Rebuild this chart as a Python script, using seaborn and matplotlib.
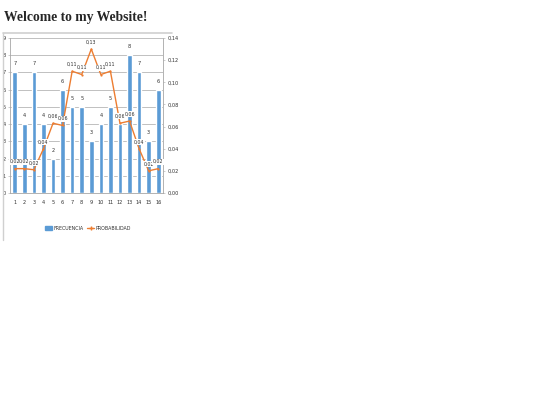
import numpy as np
import pandas as pd
import matplotlib
matplotlib.use("Agg")
import matplotlib.pyplot as plt
from matplotlib.lines import Line2D
from matplotlib.patches import Patch
import seaborn as sns

# data
categorias = [str(i) for i in range(1, 17)]
frecuencia = [7, 4, 7, 4, 2, 6, 5, 5, 3, 4, 5, 4, 8, 7, 3, 6]
# the label of bar 12 is hidden under the line label in the original
frec_labels = ["7", "4", "7", "4", "2", "6", "5", "5", "3", "4", "5", "", "8", "7", "3", "6"]
probabilidad = [0.022, 0.022, 0.021, 0.040, 0.063, 0.061, 0.110, 0.107,
                0.130, 0.107, 0.110, 0.063, 0.065, 0.040, 0.020, 0.022]
prob_labels = ["0,02", "0,02", "0,02", "0,04", "0,06", "0,06", "0,11", "0,11",
               "0,13", "0,11", "0,11", "0,06", "0,06", "0,04", "0,02", "0,02"]
left_ticks = list(range(0, 10))
right_ticks = [0.00, 0.02, 0.04, 0.06, 0.08, 0.10, 0.12, 0.14]

df = pd.DataFrame({"x": categorias, "pos": np.arange(16),
                   "FRECUENCIA": frecuencia, "PROBABILIDAD": probabilidad})

BLUE = "#5b9bd5"
ORANGE = "#ed7d31"
GRID = "#a6a6a6"
TXT = "#303030"

sns.set_style("white")
plt.rcParams["font.family"] = ["DejaVu Sans"]

W, H = 540, 405
fig = plt.figure(figsize=(W / 100, H / 100), dpi=100)
fig.patch.set_facecolor("white")

# page heading
fig.text(4 / W, 1 - 21 / H, "Welcome to my Website!", family="Liberation Serif",
         fontweight="bold", fontsize=9.8, va="baseline", ha="left")

# thin border of the chart image
fig.add_artist(Line2D([3 / W, 172 / W], [1 - 33 / H, 1 - 33 / H], color="#d0d0d0", lw=1.2))
fig.add_artist(Line2D([3 / W, 3 / W], [1 - 33 / H, 1 - 240 / H], color="#d0d0d0", lw=1.0))

ax = fig.add_axes([10 / W, 1 - 193 / H, 153 / W, 155 / H])
sns.barplot(data=df, x="x", y="FRECUENCIA", color=BLUE, width=0.48, ax=ax,
            saturation=1, zorder=2)
ax.set_ylim(0, 9)
ax.set_yticks(left_ticks)
ax.set_xlim(-0.5, 15.5)
ax.yaxis.grid(True, color=GRID, lw=0.5, zorder=0)
ax.set_axisbelow(True)
ax.set_xlabel("")
ax.set_ylabel("")
for s in ["top", "right"]:
    ax.spines[s].set_visible(False)
for s in ["left", "bottom"]:
    ax.spines[s].set_color(GRID)
    ax.spines[s].set_linewidth(0.6)
ax.tick_params(axis="both", labelsize=3.6, length=1.5, width=0.4, color=GRID, pad=1.5,
               labelcolor=TXT)
ax.set_xticks(np.arange(16))
ax.set_xticks(np.arange(-0.5, 16, 1), minor=True)
ax.tick_params(axis="x", which="major", length=0)
ax.tick_params(axis="x", which="minor", length=2, width=0.4, color=GRID)
ax.tick_params(axis="x", pad=5)

for i, (v, lab) in enumerate(zip(frecuencia, frec_labels)):
    ax.text(i, v + 0.35, lab, ha="center", va="bottom", fontsize=3.6,
            color=TXT, zorder=5)

ax2 = ax.twinx()
sns.lineplot(data=df, x="pos", y="PROBABILIDAD", color=ORANGE, lw=1.0, marker="o",
             markersize=1.6, markeredgewidth=0, ax=ax2, zorder=4)
ax2.set_ylim(0, 0.14)
ax2.set_yticks(right_ticks)
ax2.set_yticklabels([f"{t:.2f}".replace(".", ",") for t in right_ticks])
ax2.set_ylabel("")
ax2.set_xlabel("")
ax2.set_xlim(-0.5, 15.5)
for s in ["top", "left", "bottom"]:
    ax2.spines[s].set_visible(False)
ax2.spines["right"].set_color(GRID)
ax2.spines["right"].set_linewidth(0.6)
ax2.tick_params(axis="y", labelsize=3.6, length=1.5, width=0.4, color=GRID, pad=1.5,
                labelcolor=TXT)

for i, (p, lab) in enumerate(zip(probabilidad, prob_labels)):
    ax2.text(i, p + 0.004, lab, ha="center", va="bottom", fontsize=3.4, color=TXT,
             zorder=6, bbox=dict(boxstyle="square,pad=0.1", fc="white", ec="none"))

handles = [Patch(color=BLUE, label="FRECUENCIA"),
           Line2D([], [], color=ORANGE, lw=1.0, marker="+", markersize=3, label="PROBABILIDAD")]
fig.legend(handles=handles, loc="center", bbox_to_anchor=(88 / W, 1 - 228 / H), ncol=2,
           frameon=False, fontsize=3.4, handlelength=1.5, handleheight=0.8,
           columnspacing=0.8, handletextpad=0.3, labelcolor=TXT)

fig.savefig("out.png", dpi=100, facecolor="white")
